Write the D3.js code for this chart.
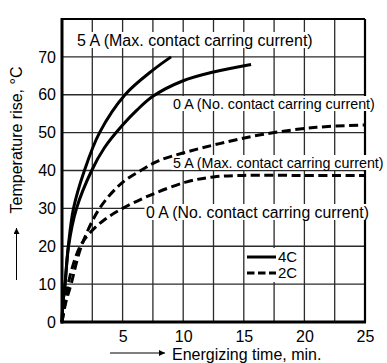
<!DOCTYPE html>
<html>
<head>
<meta charset="utf-8">
<script src="https://cdn.jsdelivr.net/npm/d3@7"></script>
<style>
  html, body { margin: 0; padding: 0; background: #fff; }
  svg { display: block; }
  text { font-family: "Liberation Sans", Arial, Helvetica, sans-serif; fill: #000; }
</style>
</head>
<body>
<svg id="chart" width="387" height="363"></svg>
<script>
// ---- Data ----
const xTicks = [5, 10, 15, 20, 25];
const yTicks = [0, 10, 20, 30, 40, 50, 60, 70];
const xGrid = [2.5, 5, 7.5, 10, 12.5, 15, 17.5, 20, 22.5];
const yGrid = [10, 20, 30, 40, 50, 60, 70];

// 4C, 5 A (solid)
const t4C5A = [0, 0.08, 0.25, 0.52, 0.95, 1.85, 3.1, 5.2, 7.5, 9.0];
const v4C5A = [0, 5, 10, 20, 30, 40, 50, 60, 66.5, 70];
// 4C, 0 A (solid)
const t4C0A = [0, 0.08, 0.25, 0.54, 1.2, 2.45, 3.5, 5.0, 6.2, 7.5, 10, 12.5, 15.6];
const v4C0A = [0, 5, 10, 20, 30, 40, 46.0, 52.0, 56.0, 59.6, 63.7, 66, 68];
// 2C, 5 A (dashed)
const t2C5A = [0, 0.3, 0.75, 1.6, 3.1, 4.9, 6.5, 8.0, 10.3, 13, 16.5, 21, 25];
const v2C5A = [0, 5, 10, 20, 30, 36.6, 40, 42.6, 44.9, 47.1, 49.5, 51.4, 52];
// 2C, 0 A (dashed)
const t2C0A = [0, 0.25, 0.65, 1.5, 2.3, 3.5, 5.0, 7.3, 10.3, 12.5, 15, 20, 25];
const v2C0A = [0, 5, 12, 20, 23.5, 27, 30, 33.5, 37, 38.3, 38.7, 38.7, 38.7];

const labelMax = "5 A (Max. contact carring current)";
const labelNo = "0 A (No. contact carring current)";
const legendNames = ["4C", "2C"];

// ---- Layout ----
const svg = d3.select("#chart");
const L = 62, R = 365, T = 19, B = 322;
const x = d3.scaleLinear().domain([0, 25]).range([L, R]);
const y = d3.scaleLinear().domain([0, 80]).range([B, T]);

// grid
const g = svg.append("g");
g.selectAll("line.vx").data(xGrid).join("line")
  .attr("x1", d => x(d)).attr("x2", d => x(d)).attr("y1", T).attr("y2", B)
  .attr("stroke", "#2b2b2b").attr("stroke-width", 1.3);
g.selectAll("line.hy").data(yGrid).join("line")
  .attr("x1", L).attr("x2", R).attr("y1", d => y(d)).attr("y2", d => y(d))
  .attr("stroke", "#2b2b2b").attr("stroke-width", 1.3);

// labels with white background
function boxedLabel(txt, x0, base, size) {
  const gg = svg.append("g");
  const rect = gg.append("rect").attr("fill", "#fff");
  const t = gg.append("text").attr("x", x0).attr("y", base)
    .attr("font-size", size).text(txt);
  const bb = t.node().getBBox();
  rect.attr("x", bb.x - 1.5).attr("y", bb.y + 0.5).attr("width", bb.width + 3).attr("height", bb.height - 1);
}

// frame
svg.append("line").attr("x1", L).attr("x2", R).attr("y1", T).attr("y2", T).attr("stroke", "#000").attr("stroke-width", 2.2);
svg.append("line").attr("x1", R).attr("x2", R).attr("y1", T).attr("y2", B).attr("stroke", "#000").attr("stroke-width", 2.2);

boxedLabel(labelMax, 77, 45.5, 16);
boxedLabel(labelNo, 173, 108.5, 14.3);
boxedLabel(labelMax, 173, 167.5, 14.3);
boxedLabel(labelNo, 146, 217.5, 15.8);

// curves
const line = d3.line().x(d => x(d[0])).y(d => y(d[1])).curve(d3.curveCatmullRom.alpha(0.5));
const series = [
  {t: t4C5A, v: v4C5A, dash: null},
  {t: t4C0A, v: v4C0A, dash: null},
  {t: t2C5A, v: v2C5A, dash: "9,4.5"},
  {t: t2C0A, v: v2C0A, dash: "9,4.5"}
];
series.forEach(s => {
  svg.append("path").datum(d3.zip(s.t, s.v)).attr("d", line)
    .attr("fill", "none").attr("stroke", "#000").attr("stroke-width", 3)
    .attr("stroke-dasharray", s.dash);
});

// axes (left & bottom thick)
const xAxis = d3.axisBottom(x).tickValues(xTicks).tickSize(0).tickPadding(9);
const yAxis = d3.axisLeft(y).tickValues(yTicks).tickSize(0).tickPadding(6);
const gx = svg.append("g").attr("transform", `translate(0,${B})`).call(xAxis);
const gy = svg.append("g").attr("transform", `translate(${L},0)`).call(yAxis);
[gx, gy].forEach(a => {
  a.select(".domain").remove();
  a.selectAll("text").attr("font-size", 16).attr("font-family", "Liberation Sans, Arial, sans-serif").attr("fill", "#000");
});
svg.append("line").attr("x1", L).attr("x2", L).attr("y1", T - 1).attr("y2", B + 1.5).attr("stroke", "#000").attr("stroke-width", 3);
svg.append("line").attr("x1", L - 1.5).attr("x2", R + 1).attr("y1", B).attr("y2", B).attr("stroke", "#000").attr("stroke-width", 3);

// legend
const lg = svg.append("g");
lg.append("rect").attr("x", 245).attr("y", 248).attr("width", 55).attr("height", 34).attr("fill", "#fff");
const legendY = [257, 273];
lg.selectAll("line.lg").data(legendNames).join("line")
  .attr("x1", 247).attr("x2", 276).attr("y1", (d, i) => legendY[i]).attr("y2", (d, i) => legendY[i])
  .attr("stroke", "#000").attr("stroke-width", 3)
  .attr("stroke-dasharray", (d, i) => i === 0 ? null : "7.5,3.5");
lg.selectAll("text.lg").data(legendNames).join("text")
  .attr("x", 278).attr("y", (d, i) => legendY[i]).attr("dy", "0.36em")
  .attr("font-size", 15).text(d => d);

// axis titles with arrows
svg.append("defs").append("marker").attr("id", "ah")
  .attr("viewBox", "0 0 10 10").attr("refX", 10).attr("refY", 5)
  .attr("markerWidth", 10).attr("markerHeight", 6).attr("markerUnits", "userSpaceOnUse").attr("orient", "auto")
  .append("path").attr("d", "M0,0 L10,5 L0,10 z").attr("fill", "#000");

svg.append("line").attr("x1", 110).attr("x2", 165).attr("y1", 353).attr("y2", 353)
  .attr("stroke", "#000").attr("stroke-width", 1).attr("marker-end", "url(#ah)");
svg.append("text").attr("x", 172).attr("y", 360).attr("font-size", 16).text("Energizing time, min.");

svg.append("line").attr("x1", 16.5).attr("x2", 16.5).attr("y1", 280).attr("y2", 228)
  .attr("stroke", "#000").attr("stroke-width", 1).attr("marker-end", "url(#ah)");
svg.append("text").attr("transform", "translate(21.5,140) rotate(-90)")
  .attr("text-anchor", "middle").attr("font-size", 16).text("Temperature rise, °C");
</script>
</body>
</html>
